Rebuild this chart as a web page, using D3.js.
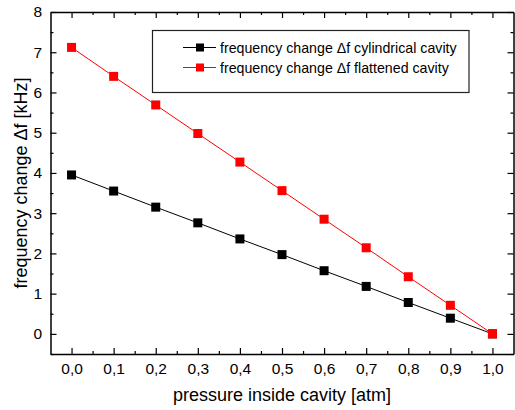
<!DOCTYPE html>
<html><head><meta charset="utf-8">
<script src="https://cdn.jsdelivr.net/npm/d3@7"></script>
<style>body{margin:0;background:#fff}svg{display:block}text{font-family:"Liberation Sans",Arial,Helvetica,sans-serif}</style>
</head><body><svg id="c" width="515" height="410"></svg>
<script>
const pressure = [0.0,0.1,0.2,0.3,0.4,0.5,0.6,0.7,0.8,0.9,1.0];
const cylindrical = [3.95,3.55,3.15,2.76,2.36,1.97,1.57,1.18,0.78,0.39,0.0];
const flattened = [7.12,6.40,5.69,4.98,4.27,3.56,2.85,2.14,1.42,0.71,0.0];
const xTicks = [0,0.1,0.2,0.3,0.4,0.5,0.6,0.7,0.8,0.9,1.0];
const yTicks = [0,1,2,3,4,5,6,7,8];
const seriesNames = ["frequency change \u0394f cylindrical cavity","frequency change \u0394f flattened cavity"];
const seriesColors = ["#000000","#ff0000"];
const xTitle = "pressure inside cavity [atm]";
const yTitle = "frequency change \u0394f [kHz]";

const svg = d3.select("#c");
const L=50.5,R=513.5,T=12,B=354;
const x = d3.scaleLinear().domain([-0.05,1.05]).range([L,R]);
const y = d3.scaleLinear().domain([-0.5,8]).range([B,T]);
const fmt = d => d3.format(".1f")(d).replace(".",",");

const xMinor = d3.range(0.05,1.0,0.1);
const yMinor = d3.range(-0.5,8,1);

// bottom axis
const gB = svg.append("g").attr("transform",`translate(0,${B})`)
  .call(d3.axisBottom(x).tickValues(xTicks).tickFormat(fmt).tickSizeInner(-6).tickSizeOuter(0).tickPadding(9));
gB.append("g").call(d3.axisBottom(x).tickValues(xMinor).tickFormat("").tickSizeInner(-3).tickSizeOuter(0)).select(".domain").remove();
// top axis
const gT = svg.append("g").attr("transform",`translate(0,${T})`)
  .call(d3.axisTop(x).tickValues(xTicks).tickFormat("").tickSizeInner(-6).tickSizeOuter(0));
gT.append("g").call(d3.axisTop(x).tickValues(xMinor).tickFormat("").tickSizeInner(-3).tickSizeOuter(0)).select(".domain").remove();
// left axis
const gL = svg.append("g").attr("transform",`translate(${L},0)`)
  .call(d3.axisLeft(y).tickValues(yTicks).tickFormat(d3.format("d")).tickSizeInner(-6).tickSizeOuter(0).tickPadding(8.5));
gL.append("g").call(d3.axisLeft(y).tickValues(yMinor).tickFormat("").tickSizeInner(-3).tickSizeOuter(0)).select(".domain").remove();
// right axis
const gR = svg.append("g").attr("transform",`translate(${R},0)`)
  .call(d3.axisRight(y).tickValues(yTicks).tickFormat("").tickSizeInner(-6).tickSizeOuter(0));
gR.append("g").call(d3.axisRight(y).tickValues(yMinor).tickFormat("").tickSizeInner(-3).tickSizeOuter(0)).select(".domain").remove();

svg.selectAll(".domain").attr("stroke","#000").attr("stroke-width",1.5);
svg.selectAll(".tick line").attr("stroke","#000").attr("stroke-width",1.2);
svg.selectAll(".tick text").attr("font-size",15.5).attr("fill","#000").attr("font-family","'Liberation Sans',Arial,sans-serif");

// series
const data = [cylindrical, flattened];
data.forEach((vals,i)=>{
  const pts = pressure.map((p,j)=>[p,vals[j]]);
  svg.append("path").datum(pts)
    .attr("d", d3.line().x(d=>x(d[0])).y(d=>y(d[1])))
    .attr("fill","none").attr("stroke",seriesColors[i]).attr("stroke-width",1);
  svg.append("g").selectAll("rect").data(pts).join("rect")
    .attr("x",d=>x(d[0])-4.5).attr("y",d=>y(d[1])-4.5)
    .attr("width",9).attr("height",9).attr("fill",seriesColors[i]);
});

// legend
const lg = svg.append("g");
lg.append("rect").attr("x",152.5).attr("y",30.5).attr("width",316.5).attr("height",62)
  .attr("fill","#fff").attr("stroke","#222").attr("stroke-width",1.2);
seriesNames.forEach((n,i)=>{
  const yy = 47.5 + i*20;
  lg.append("line").attr("x1",183).attr("x2",216).attr("y1",yy).attr("y2",yy)
    .attr("stroke",seriesColors[i]).attr("stroke-width",1);
  lg.append("rect").attr("x",196).attr("y",yy-4).attr("width",8).attr("height",8).attr("fill",seriesColors[i]);
  lg.append("text").attr("x",220).attr("y",yy+5).attr("font-size",14.2).attr("fill","#000").text(n);
});

// titles
svg.append("text").attr("x",(L+R)/2).attr("y",401).attr("text-anchor","middle")
  .attr("font-size",18).attr("fill","#000").text(xTitle);
svg.append("text").attr("transform",`translate(27,${(T+B)/2}) rotate(-90)`).attr("text-anchor","middle")
  .attr("font-size",18).attr("fill","#000").text(yTitle);
</script></body></html>
